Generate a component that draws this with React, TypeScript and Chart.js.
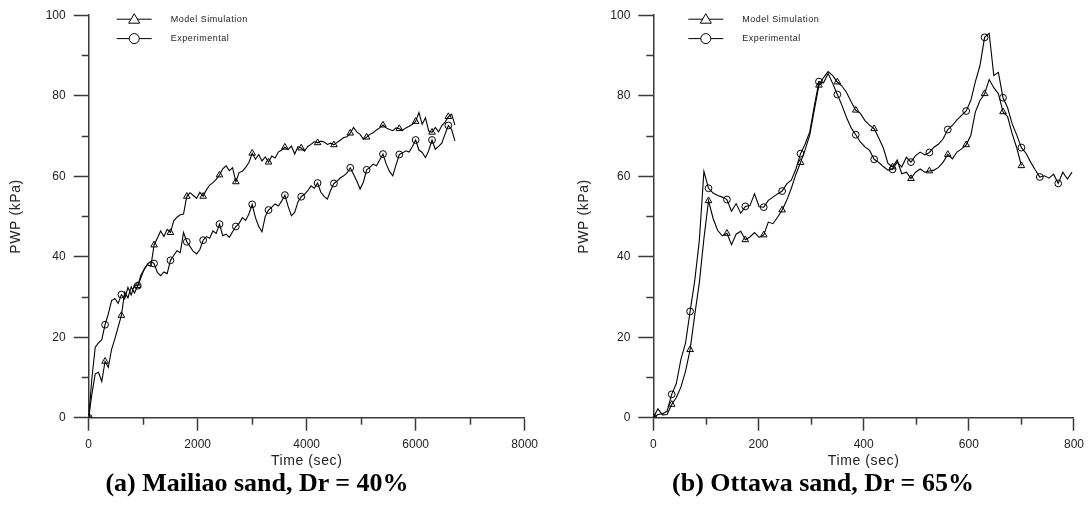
import React, { useEffect, useRef } from 'react';
import { Chart, registerables } from 'chart.js';

Chart.register(...registerables);

// ---------- Data ----------
// Panel (a): Mailiao sand, sampled every STEP_A seconds
const STEP_A = 60;
const MARK_EVERY_A = 5; // marker every 300 s
const MODEL_A = [
  0, 6, 10.9, 11.3, 9.0, 14.0, 12.5, 17.0, 19.6, 22.5,
  25.4, 31.2, 29.8, 32.5, 31.0, 32.8, 34.8, 37.0, 38.0, 37.6,
  42.9, 44.6, 46.4, 45.0, 46.8, 46.0, 48.9, 49.8, 50.4, 50.6,
  55.0, 55.9, 55.2, 54.5, 56.0, 55.0, 56.6, 57.8, 58.4, 59.2,
  60.3, 61.8, 62.6, 61.4, 62.1, 58.6, 60.9, 61.2, 62.2, 63.4,
  65.7, 64.2, 65.4, 63.8, 64.8, 63.5, 65.0, 64.5, 66.0, 66.5,
  67.2, 66.6, 67.5, 65.5, 67.3, 67.0, 66.2, 67.4, 67.9, 68.6,
  68.3, 68.7, 68.5, 67.9, 68.2, 67.8, 68.4, 69.0, 69.6, 69.8,
  70.7, 72.1, 71.0, 70.4, 69.2, 69.7, 70.4, 70.8, 71.5, 72.0,
  72.7, 72.0, 71.6, 71.3, 72.0, 71.8, 71.4, 72.0, 72.4, 72.9,
  73.6, 75.8, 72.9, 74.5, 71.2, 70.9, 72.1, 71.0, 72.6, 73.4,
  74.8, 75.4, 72.7,
];
const EXP_A = [
  0, 10.0, 17.5, 18.6, 19.4, 23.1, 25.8, 29.1, 29.6, 28.4,
  30.6, 29.5, 32.4, 30.5, 33.0, 32.8, 35.5, 36.8, 38.2, 38.8,
  38.3, 36.1, 35.3, 36.2, 35.8, 39.1, 40.3, 41.5, 41.0, 46.0,
  43.7, 42.5, 41.3, 40.7, 41.8, 44.1, 45.0, 44.6, 46.4, 45.8,
  48.1, 45.2, 45.6, 44.8, 46.2, 47.5, 48.3, 49.7, 49.0, 50.6,
  53.0, 49.7, 47.5, 46.2, 50.0, 51.6, 52.3, 53.1, 52.6, 53.8,
  55.3, 52.5, 50.2, 51.0, 53.6, 54.9, 55.5, 56.4, 57.6, 57.0,
  58.3, 56.0, 55.0, 54.3, 56.5, 58.2, 58.8, 59.6, 60.1, 60.8,
  62.1, 60.5, 58.8, 56.8, 58.5, 61.6, 62.2, 63.0, 62.6, 64.0,
  65.5, 63.0, 61.2, 60.1, 62.8, 65.4, 65.8, 66.3, 66.0, 67.4,
  69.0, 66.5, 65.9, 64.6, 66.4, 69.0, 66.7, 67.4, 68.2, 70.5,
  72.6, 71.6, 68.8,
];

// Panel (b): Ottawa sand, sampled every STEP_B seconds
const STEP_B = 8.75;
const MARK_EVERY_B = 4; // marker every 35 s
const MODEL_B = [
  0, 2.2, 0.7, 0.8, 3.3, 5.0, 7.6, 11.5, 16.9, 25.5,
  33.5, 44.5, 53.9, 49.5, 46.5, 45.2, 45.8, 43.0, 45.6, 46.3,
  44.2, 44.9, 46.0, 44.8, 45.4, 48.6, 48.2, 49.8, 51.6, 54.0,
  57.0, 60.5, 63.4, 66.6, 70.2, 76.5, 82.6, 84.5, 86.0, 85.0,
  83.4, 82.4, 80.8, 78.5, 76.4, 75.6, 73.8, 72.7, 71.8, 69.5,
  67.0, 63.2, 62.3, 64.0, 60.6, 61.0, 59.4, 61.0, 61.8, 61.0,
  61.3, 61.5, 62.2, 63.5, 65.4, 64.3, 66.0, 66.8, 67.8, 70.1,
  76.0, 78.8, 80.5, 84.0, 82.0, 80.5, 76.0, 74.8, 70.5, 67.0,
  62.6,
];
const EXP_B = [
  0, 0.8, 1.0, 1.6, 5.8, 8.5, 14.5, 18.5, 26.4, 34.0,
  44.0, 61.2, 57.0, 55.8, 55.2, 54.8, 54.2, 51.3, 53.2, 50.8,
  52.5, 52.7, 55.6, 52.4, 52.3, 54.0, 54.8, 55.6, 56.3, 58.1,
  59.0, 61.8, 65.6, 68.0, 71.0, 77.5, 83.5, 83.2, 85.5, 83.0,
  80.3, 77.6, 74.6, 72.0, 70.3, 68.5, 67.3, 66.4, 64.2, 63.4,
  62.4, 61.5, 61.7, 63.5, 62.3, 64.7, 63.5, 65.1, 66.0, 65.3,
  65.9, 67.2, 68.0, 69.3, 71.6, 72.6, 74.0, 75.1, 76.2, 78.8,
  83.5, 87.5, 94.5, 95.5, 85.0, 85.8, 79.5, 77.0, 73.0, 70.2,
  67.1, 65.7, 63.5, 61.6, 59.8, 60.1, 59.5, 60.5, 58.2, 61.0,
  59.3, 61.0,
];

const SERIES_LABELS = ['Model Simulation', 'Experimental'];
const X_TITLE = 'Time (sec)';
const Y_TITLE = 'PWP (kPa)';
const Y_MAX = 100;
const Y_MAJOR = 20;
const CAPTIONS = ['(a) Mailiao sand, Dr = 40%', '(b) Ottawa sand, Dr = 65%'];

// ---------- Styling ----------
const AXIS = '#3a3a3a';
const TEXT = '#222';
const SANS = '"Liberation Sans", Arial, sans-serif';

type Panel = {
  model: number[];
  exp: number[];
  step: number;
  markEvery: number;
  xMax: number;
  xMajor: number;
  left: number;
  width: number;
  height: number;
  yAxisWidth: number;
  padRight: number;
  yTitleX: number;
  legendX: number;
  captionX: number;
};

const PANELS: Panel[] = [
  {
    model: MODEL_A, exp: EXP_A, step: STEP_A, markEvery: MARK_EVERY_A,
    xMax: 8000, xMajor: 2000,
    left: 0, width: 545, height: 470, yAxisWidth: 88.7, padRight: 18,
    yTitleX: 16.5, legendX: 28, captionX: 257,
  },
  {
    model: MODEL_B, exp: EXP_B, step: STEP_B, markEvery: MARK_EVERY_B,
    xMax: 800, xMajor: 200,
    left: 545, width: 546, height: 470, yAxisWidth: 108.3, padRight: 13.7,
    yTitleX: 39.5, legendX: 35, captionX: 823,
  },
];

function toPoints(values: number[], step: number) {
  return values.map((v, i) => ({ x: i * step, y: v }));
}

function makeDecor(p: Panel) {
  return {
    id: 'decor',
    afterDraw(chart: any) {
      const ctx: CanvasRenderingContext2D = chart.ctx;
      const { left, right, top, bottom } = chart.chartArea;
      const xs = chart.scales.x;
      const ys = chart.scales.y;
      ctx.save();
      ctx.strokeStyle = AXIS;
      ctx.lineWidth = 1.5;
      // minor ticks
      for (let v = Y_MAJOR / 2; v < Y_MAX; v += Y_MAJOR) {
        const py = Math.round(ys.getPixelForValue(v)) + 0.5;
        ctx.beginPath();
        ctx.moveTo(left - 7, py);
        ctx.lineTo(left, py);
        ctx.stroke();
      }
      for (let v = p.xMajor / 2; v < p.xMax; v += p.xMajor) {
        const px = Math.round(xs.getPixelForValue(v)) + 0.5;
        ctx.beginPath();
        ctx.moveTo(px, bottom);
        ctx.lineTo(px, bottom + 7);
        ctx.stroke();
      }
      // axis titles
      ctx.fillStyle = TEXT;
      ctx.font = `14px ${SANS}`;
      (ctx as any).letterSpacing = '0.6px';
      ctx.textAlign = 'center';
      ctx.textBaseline = 'middle';
      ctx.fillText(X_TITLE, (left + right) / 2, 461);
      ctx.save();
      ctx.translate(p.yTitleX, (top + bottom) / 2);
      ctx.rotate(-Math.PI / 2);
      ctx.fillText(Y_TITLE, 0, 0);
      ctx.restore();
      // legend
      ctx.font = `9px ${SANS}`;
      (ctx as any).letterSpacing = '0.5px';
      ctx.textAlign = 'left';
      ctx.strokeStyle = '#000';
      ctx.lineWidth = 1;
      SERIES_LABELS.forEach((label, i) => {
        const y = top + 4 + i * 19.4;
        const x0 = left + p.legendX;
        const x1 = x0 + 35;
        const xm = (x0 + x1) / 2;
        ctx.beginPath();
        ctx.moveTo(x0, y);
        ctx.lineTo(x1, y);
        ctx.stroke();
        ctx.beginPath();
        if (i === 0) {
          ctx.moveTo(xm, y - 5.5);
          ctx.lineTo(xm + 5.5, y + 4);
          ctx.lineTo(xm - 5.5, y + 4);
          ctx.closePath();
        } else {
          ctx.arc(xm, y, 5, 0, Math.PI * 2);
        }
        ctx.fillStyle = '#fff';
        ctx.fill();
        ctx.stroke();
        ctx.fillStyle = TEXT;
        ctx.fillText(label, x1 + 19, y);
      });
      ctx.restore();
    },
  };
}

function PanelChart({ p }: { p: Panel }) {
  const ref = useRef<HTMLCanvasElement | null>(null);
  useEffect(() => {
    if (!ref.current) return;
    const radius = (r: number) => (c: any) => (c.dataIndex % p.markEvery === 0 ? r : 0);
    const base = {
      borderColor: '#000',
      borderWidth: 1.1,
      tension: 0,
      fill: false,
      pointBorderColor: '#000',
      pointBackgroundColor: 'rgba(0,0,0,0)',
      pointBorderWidth: 1,
      pointHoverRadius: 0,
    };
    const chart = new Chart(ref.current, {
      type: 'line',
      data: {
        datasets: [
          { ...base, label: SERIES_LABELS[0], data: toPoints(p.model, p.step), pointStyle: 'triangle', pointRadius: radius(3.8) },
          { ...base, label: SERIES_LABELS[1], data: toPoints(p.exp, p.step), pointStyle: 'circle', pointRadius: radius(3.4) },
        ],
      },
      options: {
        animation: false,
        responsive: false,
        devicePixelRatio: 1,
        events: [],
        layout: { padding: { left: 0, top: 14.4, right: p.padRight, bottom: 0 } },
        plugins: { legend: { display: false }, tooltip: { enabled: false }, title: { display: false } },
        scales: {
          x: {
            type: 'linear',
            min: 0,
            max: p.xMax,
            afterFit: (s: any) => { s.height = p.height - 417.7; },
            ticks: {
              stepSize: p.xMajor / 2,
              autoSkip: false,
              maxRotation: 0,
              padding: 7,
              color: TEXT,
              font: { family: SANS, size: 12 },
              callback: (v: any) => (Number(v) % p.xMajor === 0 ? String(v) : ''),
            },
            grid: {
              drawOnChartArea: false,
              drawTicks: true,
              tickLength: 13,
              tickWidth: 1.5,
              tickColor: (c: any) => (c.tick && c.tick.value % p.xMajor === 0 ? AXIS : 'rgba(0,0,0,0)'),
            },
            border: { display: true, color: AXIS, width: 1.5 },
          },
          y: {
            type: 'linear',
            min: 0,
            max: Y_MAX,
            afterFit: (s: any) => { s.width = p.yAxisWidth; },
            ticks: {
              stepSize: Y_MAJOR / 2,
              autoSkip: false,
              padding: 8,
              color: TEXT,
              font: { family: SANS, size: 12 },
              callback: (v: any) => (Number(v) % Y_MAJOR === 0 ? String(v) : ''),
            },
            grid: {
              drawOnChartArea: false,
              drawTicks: true,
              tickLength: 15,
              tickWidth: 1.5,
              tickColor: (c: any) => (c.tick && c.tick.value % Y_MAJOR === 0 ? AXIS : 'rgba(0,0,0,0)'),
            },
            border: { display: true, color: AXIS, width: 1.5 },
          },
        },
      } as any,
      plugins: [makeDecor(p)],
    });
    return () => chart.destroy();
  }, [p]);
  return (
    <canvas
      ref={ref}
      width={p.width}
      height={p.height}
      style={{ position: 'absolute', left: p.left, top: 0, width: p.width, height: p.height }}
    />
  );
}

export default function App() {
  const captionStyle = (cx: number): React.CSSProperties => ({
    position: 'absolute',
    left: cx - 250,
    width: 500,
    top: 469,
    height: 28,
    lineHeight: '28px',
    textAlign: 'center',
    fontFamily: '"Liberation Serif", "Times New Roman", serif',
    fontWeight: 'bold',
    fontSize: 26,
    color: '#000',
    whiteSpace: 'nowrap',
  });
  return (
    <div style={{ position: 'absolute', left: 0, top: 0, width: 1091, height: 517, background: '#fff', overflow: 'hidden' }}>
      {PANELS.map((p, i) => (
        <PanelChart key={i} p={p} />
      ))}
      {PANELS.map((p, i) => (
        <div key={'c' + i} style={captionStyle(p.captionX)}>{CAPTIONS[i]}</div>
      ))}
    </div>
  );
}
